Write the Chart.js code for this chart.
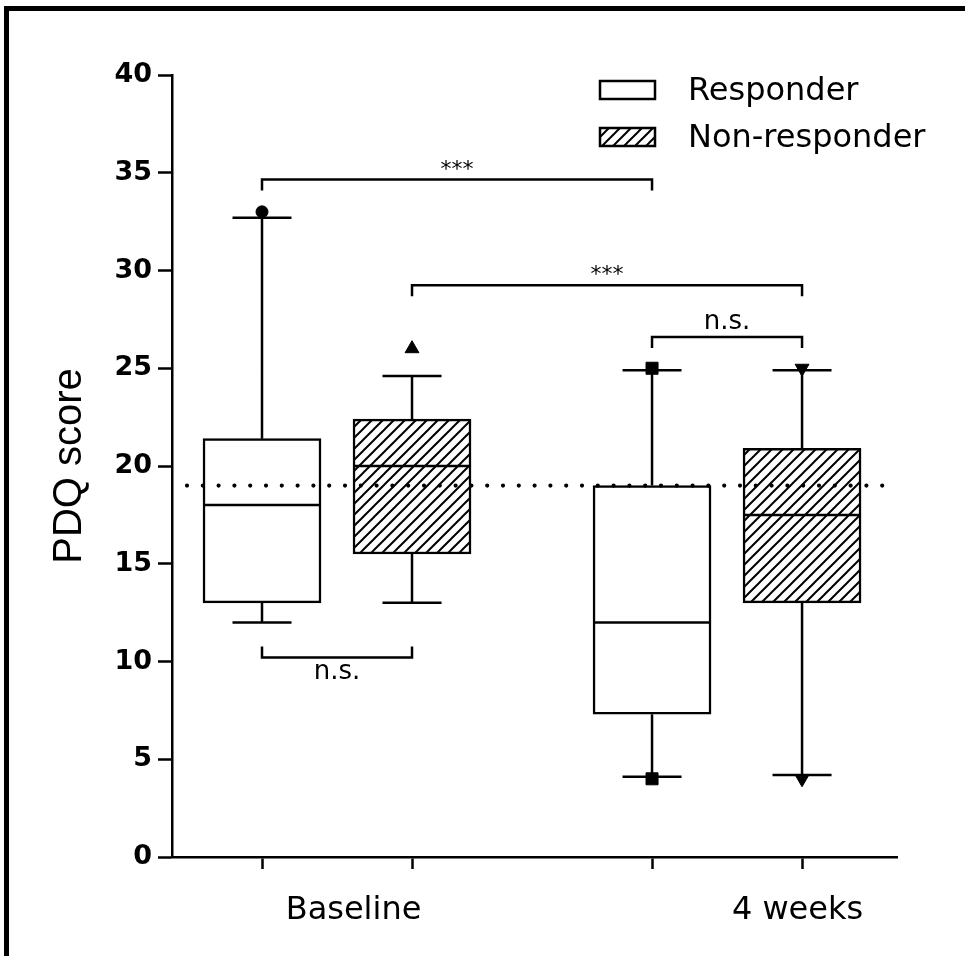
<!DOCTYPE html>
<html>
<head>
<meta charset="utf-8">
<script src="https://cdn.jsdelivr.net/npm/chart.js@4.4.0/dist/chart.umd.min.js"></script>
<style>
  html, body { margin: 0; padding: 0; background: #fff; }
  #wrap { position: relative; width: 965px; height: 956px; overflow: hidden; }
  #frame { position: absolute; left: 4px; top: 6px; right: -10px; bottom: -10px;
           border-top: 5px solid #000; border-left: 5px solid #000; pointer-events: none; }
</style>
</head>
<body>
<div id="wrap">
  <canvas id="pdqChart" width="965" height="956"></canvas>
  <div id="frame"></div>
</div>
<script>
// --- data ---
const groups = ['Baseline', '4 weeks'];
const seriesNames = ['Responder', 'Non-responder'];

const respMin = [12, 4.1];
const respQ1 = [13, 7.3];
const respMedian = [18, 12];
const respQ3 = [21.4, 19];
const respMax = [32.7, 24.9];

const nonRespMin = [13, 4.2];
const nonRespQ1 = [15.5, 13];
const nonRespMedian = [20, 17.5];
const nonRespQ3 = [22.4, 20.9];
const nonRespMax = [24.6, 24.9];

// single points drawn beside the whisker ends
const respPointGroup = [0, 1, 1];
const respPointValue = [33, 25, 4];
const nonRespPointGroup = [0, 1, 1];
const nonRespPointValue = [26, 25, 4];

const cutoffScore = 19;

// comparison brackets: [group, series] -> [group, series]
const bracketFrom = [[0, 0], [0, 1], [1, 0], [0, 0]];
const bracketTo = [[1, 0], [1, 1], [1, 1], [0, 1]];
const bracketValue = [34.65, 29.25, 26.6, 10.2];
const bracketLabel = ['***', '***', 'n.s.', 'n.s.'];

const yTicks = [0, 5, 10, 15, 20, 25, 30, 35, 40];

// --- layout (x units on the linear axis) ---
const LAYOUT = {
    GROUP_X: [1, 3.6],
    SERIES_SHIFT: [0, 1],
    GROUP_LABEL_X: [1.61, 4.57],
    X_MIN: 0.4,
    X_MAX: 5.233,
    BOX_PX: 118,
    CAP_RADIUS: 29.5,
    LINE_W: 2.5,
    FONT: '"DejaVu Sans"',
};

function slotX(g, s) {
    return LAYOUT.GROUP_X[g] + LAYOUT.SERIES_SHIFT[s];
}

const canvas = document.getElementById('pdqChart');
const ctx = canvas.getContext('2d');

function makeHatch() {
    const s = 11;
    const c = document.createElement('canvas');
    c.width = s; c.height = s;
    const g = c.getContext('2d');
    g.fillStyle = '#fff';
    g.fillRect(0, 0, s, s);
    g.strokeStyle = '#000';
    g.lineWidth = 2;
    g.beginPath();
    g.moveTo(0, s); g.lineTo(s, 0);
    g.moveTo(-2, 2); g.lineTo(2, -2);
    g.moveTo(s - 2, s + 2); g.lineTo(s + 2, s - 2);
    g.stroke();
    return ctx.createPattern(c, 'repeat');
}
const hatch = makeHatch();

function boxData(s, q1, q3) {
    return groups.map((_, g) => ({ x: slotX(g, s), y: [q1[g], q3[g]] }));
}
function whiskerData(s, lo, q1, q3, hi) {
    const pts = [];
    groups.forEach((_, g) => {
        const x = slotX(g, s);
        pts.push({ x, y: q3[g] }, { x, y: hi[g] }, { x, y: null });
        pts.push({ x, y: q1[g] }, { x, y: lo[g] }, { x, y: null });
    });
    return pts;
}
function capData(s, lo, hi) {
    const pts = [];
    groups.forEach((_, g) => {
        pts.push({ x: slotX(g, s), y: hi[g] }, { x: slotX(g, s), y: lo[g] });
    });
    return pts;
}
function medianData(s, med) {
    return groups.map((_, g) => ({ x: slotX(g, s), y: med[g] }));
}
function pointData(s, grp, val) {
    return val.map((v, i) => ({ x: slotX(grp[i], s), y: v }));
}

const lineBase = {
    type: 'line', showLine: false, borderColor: '#000',
    pointBorderColor: '#000', pointBorderWidth: LAYOUT.LINE_W, pointStyle: 'line'
};

const datasets = [
    {
        label: seriesNames[0], type: 'bar', order: 3,
        data: boxData(0, respQ1, respQ3),
        backgroundColor: '#fff', borderColor: '#000', borderWidth: LAYOUT.LINE_W,
        borderSkipped: false, barThickness: LAYOUT.BOX_PX, grouped: false
    },
    {
        label: seriesNames[1], type: 'bar', order: 3,
        data: boxData(1, nonRespQ1, nonRespQ3),
        backgroundColor: hatch, borderColor: '#000', borderWidth: LAYOUT.LINE_W,
        borderSkipped: false, barThickness: LAYOUT.BOX_PX, grouped: false
    },
    {
        type: 'line', order: 2, data: whiskerData(0, respMin, respQ1, respQ3, respMax),
        borderColor: '#000', borderWidth: LAYOUT.LINE_W, pointRadius: 0, spanGaps: false
    },
    {
        type: 'line', order: 2, data: whiskerData(1, nonRespMin, nonRespQ1, nonRespQ3, nonRespMax),
        borderColor: '#000', borderWidth: LAYOUT.LINE_W, pointRadius: 0, spanGaps: false
    },
    { ...lineBase, order: 1, data: capData(0, respMin, respMax), pointRadius: LAYOUT.CAP_RADIUS },
    { ...lineBase, order: 1, data: capData(1, nonRespMin, nonRespMax), pointRadius: LAYOUT.CAP_RADIUS },
    { ...lineBase, order: 1, data: medianData(0, respMedian), pointRadius: LAYOUT.BOX_PX / 2 },
    { ...lineBase, order: 1, data: medianData(1, nonRespMedian), pointRadius: LAYOUT.BOX_PX / 2 },
    {
        type: 'line', showLine: false, order: 0,
        data: pointData(0, respPointGroup, respPointValue),
        pointStyle: ['circle', 'rect', 'rect'], pointRadius: [6, 8.5, 8.5],
        pointBackgroundColor: '#000', pointBorderColor: '#000', pointBorderWidth: 1
    },
    {
        type: 'line', showLine: false, order: 0,
        data: pointData(1, nonRespPointGroup, nonRespPointValue),
        pointStyle: 'triangle', pointRadius: 8, pointRotation: [0, 180, 180],
        pointBackgroundColor: '#000', pointBorderColor: '#000', pointBorderWidth: 1
    }
];

// --- cut-off line, brackets, legend and group names ---
const overlay = {
    id: 'overlay',
    afterDatasetsDraw(chart) {
        const { ctx, chartArea, scales: { x, y } } = chart;
        ctx.save();
        ctx.strokeStyle = '#000';
        ctx.fillStyle = '#000';

        // dotted cut-off
        const yc = y.getPixelForValue(cutoffScore);
        ctx.lineWidth = 4.2;
        ctx.lineCap = 'round';
        ctx.setLineDash([0, 15.8]);
        ctx.beginPath();
        ctx.moveTo(chartArea.left + 15, yc);
        ctx.lineTo(chartArea.right - 12, yc);
        ctx.stroke();
        ctx.setLineDash([]);
        ctx.lineCap = 'butt';

        // brackets
        ctx.lineWidth = LAYOUT.LINE_W;
        ctx.textAlign = 'center';
        bracketValue.forEach((v, i) => {
            const x1 = x.getPixelForValue(slotX(...bracketFrom[i]));
            const x2 = x.getPixelForValue(slotX(...bracketTo[i]));
            const yb = y.getPixelForValue(v);
            const below = v < cutoffScore;
            const leg = below ? -11 : 11;
            ctx.beginPath();
            ctx.moveTo(x1, yb + leg);
            ctx.lineTo(x1, yb);
            ctx.lineTo(x2, yb);
            ctx.lineTo(x2, yb + leg);
            ctx.stroke();
            const stars = bracketLabel[i] === '***';
            ctx.font = (stars ? '22px ' : '26px ') + LAYOUT.FONT;
            const ty = below ? yb + 21 : yb - (stars ? 4 : 8);
            ctx.fillText(bracketLabel[i], (x1 + x2) / 2, ty);
        });

        // group names under the axis
        ctx.font = '32px ' + LAYOUT.FONT;
        groups.forEach((name, g) => {
            ctx.fillText(name, x.getPixelForValue(LAYOUT.GROUP_LABEL_X[g]), 919);
        });

        // legend
        ctx.textAlign = 'left';
        const fills = ['#fff', hatch];
        seriesNames.forEach((name, i) => {
            const top = 81 + i * 47;
            ctx.fillStyle = fills[i];
            ctx.fillRect(600, top, 55, 18);
            ctx.strokeRect(600, top, 55, 18);
            ctx.fillStyle = '#000';
            ctx.fillText(name, 688, top + 19);
        });
        ctx.restore();
    }
};

new Chart(ctx, {
    type: 'bar',
    data: { datasets },
    options: {
        responsive: false,
        animation: false,
        events: [],
        layout: { padding: { top: 75, right: 68, left: 0, bottom: 0 } },
        plugins: { legend: { display: false }, tooltip: { enabled: false } },
        scales: {
            x: {
                type: 'linear',
                min: LAYOUT.X_MIN,
                max: LAYOUT.X_MAX,
                offset: false,
                afterBuildTicks: s => { s.ticks = LAYOUT.GROUP_X.flatMap(gx => LAYOUT.SERIES_SHIFT.map(d => ({ value: gx + d }))); },
                afterFit: s => { s.height = 99; },
                ticks: { callback: () => '' },
                grid: { offset: false, drawOnChartArea: false, tickLength: 12, tickWidth: LAYOUT.LINE_W, tickColor: '#000' },
                border: { color: '#000', width: LAYOUT.LINE_W }
            },
            y: {
                min: 0,
                max: 40,
                afterBuildTicks: s => { s.ticks = yTicks.map(v => ({ value: v })); },
                afterFit: s => { s.width = 172; },
                ticks: { color: '#000', padding: 6, font: { family: 'DejaVu Sans', size: 27, weight: 'bold' } },
                grid: { drawOnChartArea: false, tickLength: 14, tickWidth: LAYOUT.LINE_W, tickColor: '#000' },
                border: { color: '#000', width: LAYOUT.LINE_W },
                title: {
                    display: true, text: 'PDQ score', color: '#000',
                    padding: { top: 46, bottom: 0 },
                    font: { family: 'Liberation Sans', size: 40 }
                }
            }
        }
    },
    plugins: [overlay]
});
</script>
</body>
</html>
